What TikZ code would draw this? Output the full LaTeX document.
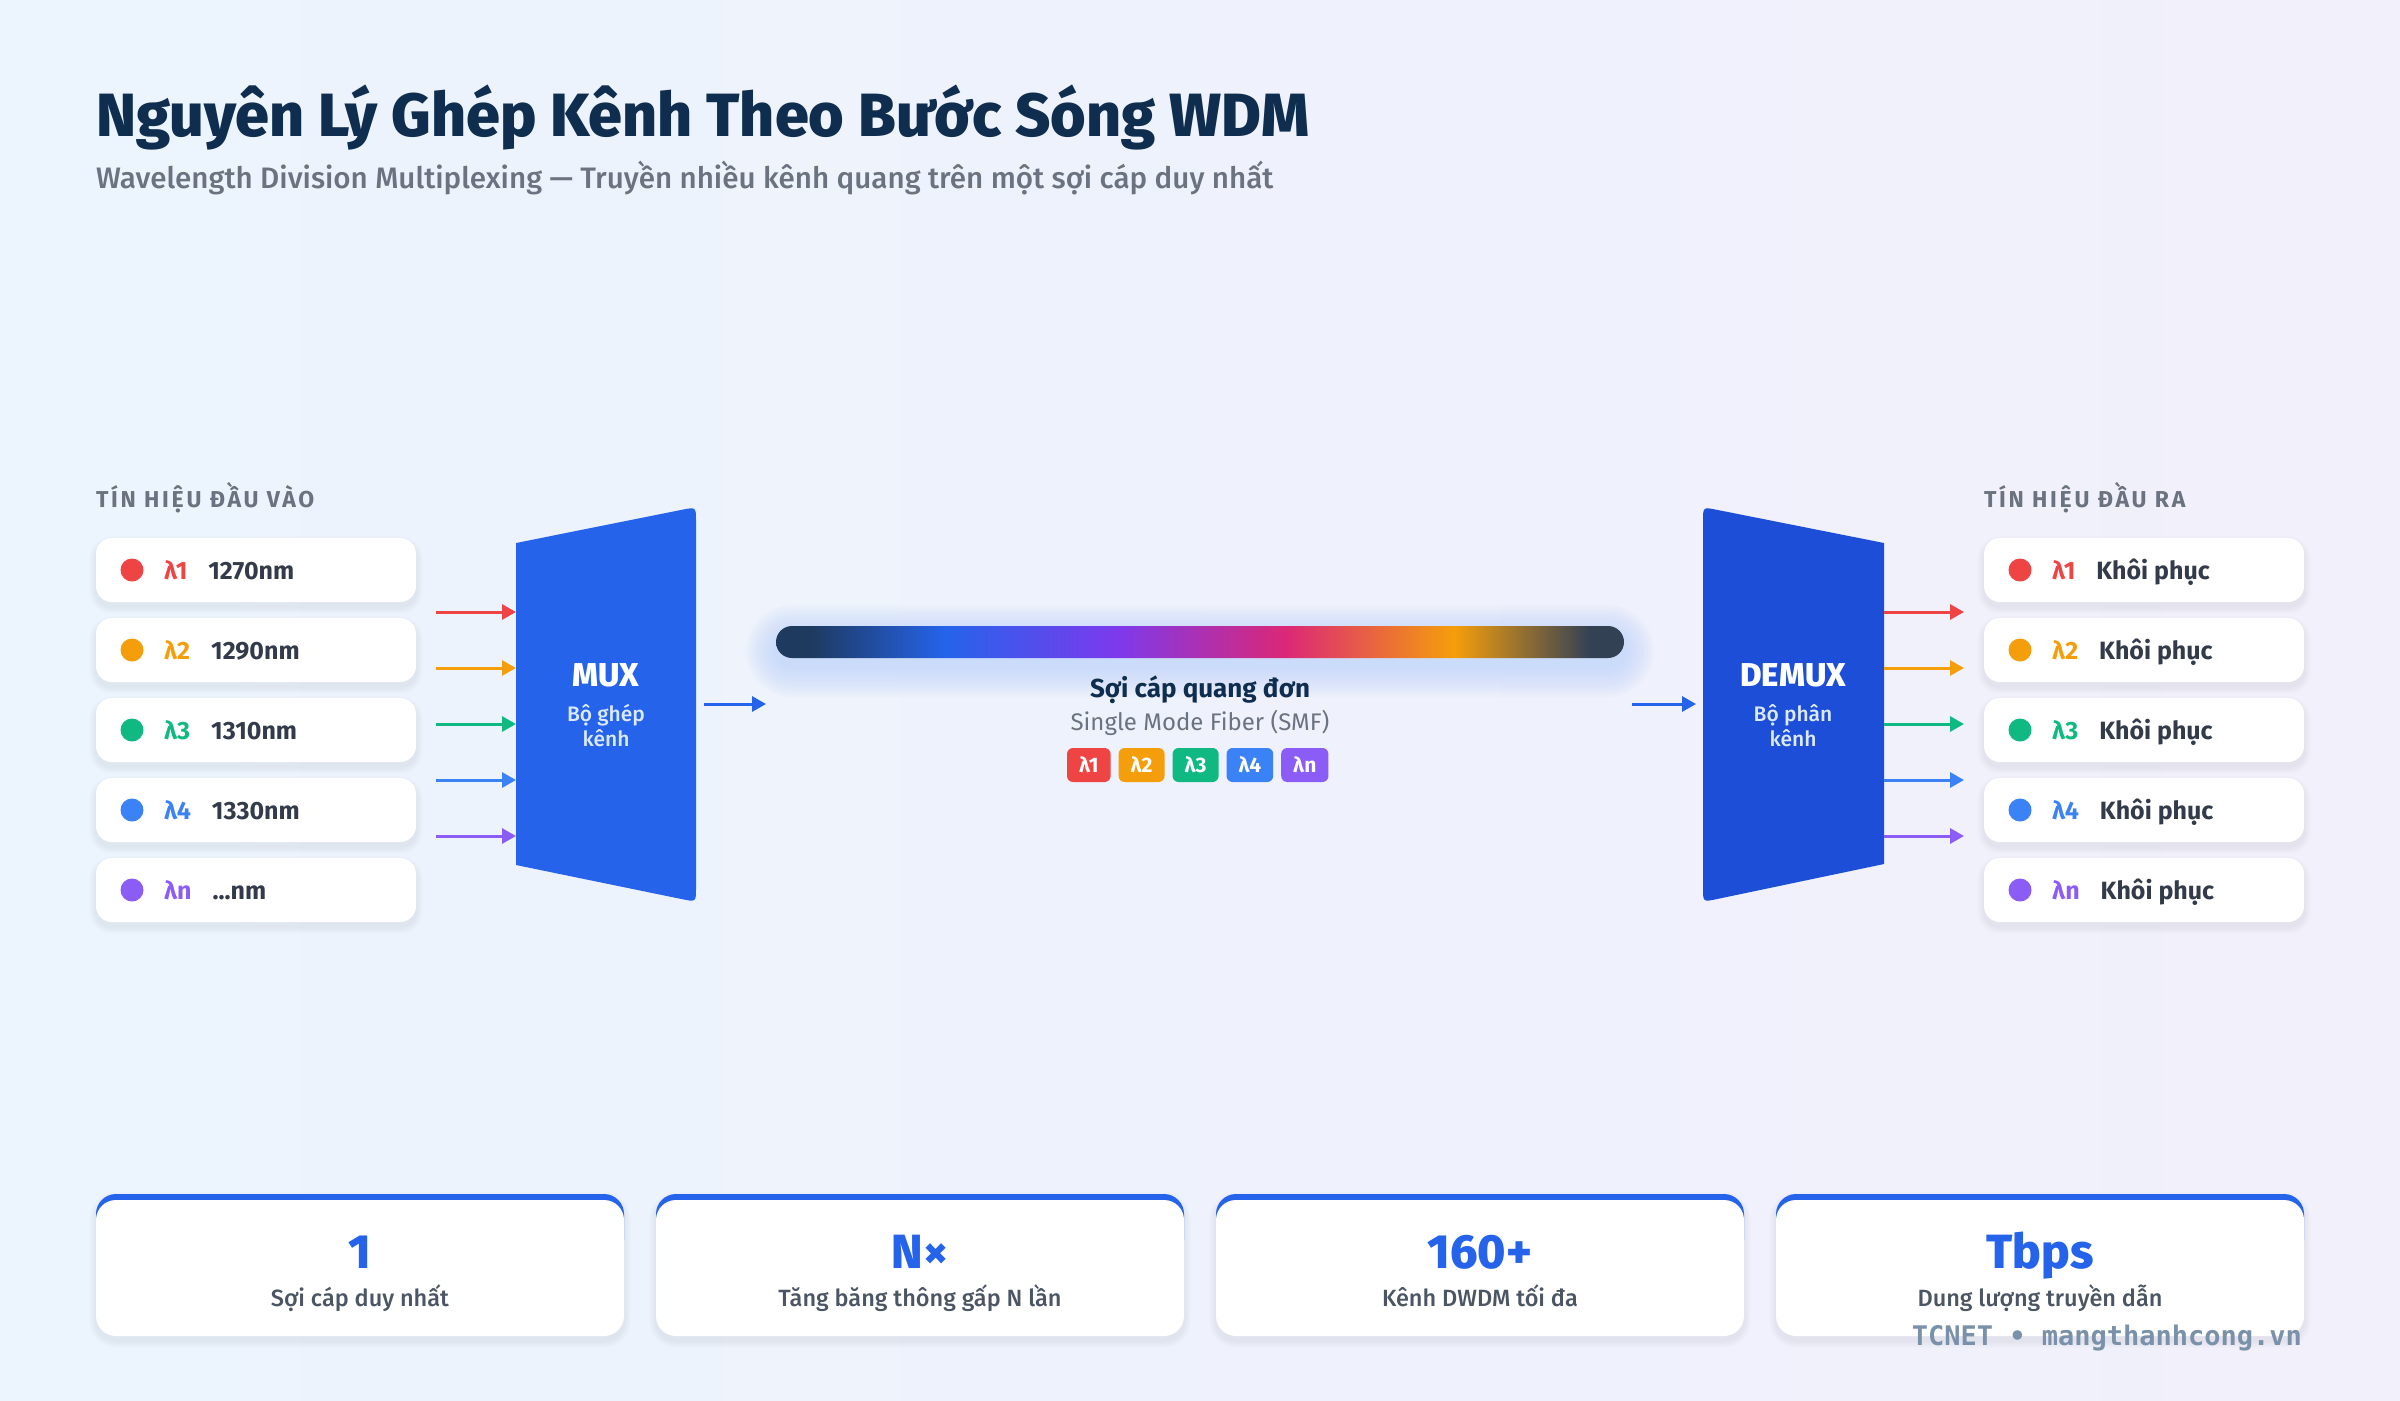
\documentclass[tikz,border=0pt]{standalone}
\usepackage{fontspec}
\setmainfont{Fira Sans}
\newfontfamily\heavyfont{Fira Sans ExtraBold}
\newfontfamily\medfont{Fira Sans Medium}
\newfontfamily\seclabfont{Fira Sans}[LetterSpace=12]
\newfontfamily\wmfont{DejaVu Sans Mono}
\usetikzlibrary{arrows.meta}
\definecolor{bgA}{HTML}{ECF4FD}
\definecolor{bgB}{HTML}{F1F0FB}
\definecolor{titlec}{HTML}{0F2E4F}
\definecolor{subc}{HTML}{6B7280}
\definecolor{darkt}{HTML}{333B4A}
\definecolor{cR}{HTML}{EF4444}
\definecolor{cO}{HTML}{F59E0B}
\definecolor{cG}{HTML}{10B981}
\definecolor{cB}{HTML}{3B82F6}
\definecolor{cP}{HTML}{8B5CF6}
\definecolor{muxc}{HTML}{2563EB}
\definecolor{demuxc}{HTML}{1D4ED8}
\definecolor{lightt}{HTML}{DBEAFE}
\definecolor{shcol}{HTML}{475569}
\definecolor{glowc}{HTML}{60A5FA}
\definecolor{labc}{HTML}{4B5563}
\definecolor{wmc}{HTML}{7A91AA}
\definecolor{fA}{HTML}{1E3A5F}
\definecolor{fB}{HTML}{2563EB}
\definecolor{fC}{HTML}{7C3AED}
\definecolor{fD}{HTML}{DB2777}
\definecolor{fE}{HTML}{F59E0B}
\definecolor{fF}{HTML}{334155}
\pgfdeclarehorizontalshading{fibershade}{100bp}{color(0bp)=(fA); color(25bp)=(fA); color(27bp)=(fA); color(35bp)=(fB); color(45bp)=(fC); color(55bp)=(fD); color(65bp)=(fE); color(73bp)=(fF); color(75bp)=(fF); color(100bp)=(fF)}
\newcommand\fsz[2]{\fontsize{#1}{#2}\selectfont}
\newcommand\dotsnm{...nm}
\newcommand\sshadow[5]{\foreach \k in {1,...,7}{\fill[shcol, opacity=0.008, rounded corners={#5+\k}] ({#1-\k},{#2-\k+5}) rectangle ({#3+\k},{#4+\k+5});}}
\begin{document}
\begin{tikzpicture}[x=1pt,y=-1pt,
  every node/.style={inner sep=0pt, outer sep=0pt},
  inbox/.style={fill=white, rounded corners=16pt, minimum width=320pt, minimum height=64pt},
  wdot/.style={circle, fill=#1, minimum size=23pt},
  lam/.style={text=#1, font=\fsz{25}{30}\bfseries, anchor=base west},
  valt/.style={text=darkt, font=\fsz{25}{30}\bfseries, anchor=base west},
  arr/.style={draw=#1, line width=3pt, -{Triangle[length=14pt,width=15pt]}},
  seclab/.style={text=subc, font=\seclabfont\fsz{23}{26}\bfseries, anchor=base west},
  boxtitle/.style={text=white, font=\heavyfont\fsz{33}{38}, anchor=base},
  boxsub/.style={text=lightt, font=\medfont\fsz{21}{24}, anchor=base},
  badge/.style={fill=#1, rounded corners=6pt, minimum height=34pt, inner xsep=12pt, text=white, font=\fsz{21}{24}\bfseries, anchor=west},
  cardnum/.style={text=muxc, font=\heavyfont\fsz{48}{54}, anchor=base},
  cardlab/.style={text=labc, font=\medfont\fsz{23.5}{27}, anchor=base}
]
\useasboundingbox (0,0) rectangle (2400,1400);
\shade[left color=bgA, right color=bgB] (0,0) rectangle (2400,1400);

% title
\node[anchor=base west, text=titlec, font=\heavyfont\fsz{61}{70}] (title) at (96,136) {Nguyên Lý Ghép Kênh Theo Bước Sóng WDM};
\node[anchor=base west, text=subc, font=\medfont\fsz{29.6}{33}] (subtitle) at (96,188) {Wavelength Division Multiplexing — Truyền nhiều kênh quang trên một sợi cáp duy nhất};

% section labels
\node[seclab] (inlab) at (96,507) {TÍN HIỆU ĐẦU VÀO};
\node[seclab] (outlab) at (1984,507) {TÍN HIỆU ĐẦU RA};

% input & output boxes
\foreach \i/\c/\l/\t/\y in {1/cR/1/1270nm/570, 2/cO/2/1290nm/650, 3/cG/3/1310nm/730, 4/cB/4/1330nm/810, 5/cP/n/\dotsnm/890}{
  \sshadow{96}{\y-32}{416}{\y+32}{16}
  \node[inbox] (in\i) at (256,\y) {};
  \node[wdot=\c] (idot\i) at (132,\y) {};
  \node[lam=\c] (ilam\i) at (164,\y+9) {λ\l};
  \node[valt] (ival\i) at ([xshift=21pt]ilam\i.base east) {\t};
  \sshadow{1984}{\y-32}{2304}{\y+32}{16}
  \node[inbox] (out\i) at (2144,\y) {};
  \node[wdot=\c] (odot\i) at (2020,\y) {};
  \node[lam=\c] (olam\i) at (2052,\y+9) {λ\l};
  \node[valt] (oval\i) at ([xshift=21pt]olam\i.base east) {Khôi phục};
}

% MUX
\fill[muxc] (516,543) -- (682.3,509.7) .. controls (696,507) .. (696,521) -- (696,888) .. controls (696,902) .. (682.3,899.2) -- (516,865) -- cycle;
\node[boxtitle] (muxt) at (606,686) {MUX};
\node[boxsub] (muxs1) at (606,721) {Bộ ghép};
\node[boxsub] (muxs2) at (606,746) {kênh};

% DEMUX
\fill[demuxc] (1884,543) -- (1884,864) -- (1716.7,899.1) .. controls (1703,902) .. (1703,888) -- (1703,521) .. controls (1703,507) .. (1716.7,509.8) -- cycle;
\node[boxtitle] (demuxt) at (1793,686) {DEMUX};
\node[boxsub] (demuxs1) at (1793,721) {Bộ phân};
\node[boxsub] (demuxs2) at (1793,746) {kênh};

% arrows in / out
\foreach \i/\c/\y in {1/cR/612, 2/cO/668, 3/cG/724, 4/cB/780, 5/cP/836}{
  \coordinate (ia\i) at (436,\y);
  \coordinate (ib\i) at (516,\y);
  \draw[arr=\c] (ia\i) -- (ib\i);
  \coordinate (oa\i) at (1884,\y);
  \coordinate (ob\i) at (1964,\y);
  \draw[arr=\c] (oa\i) -- (ob\i);
}

% fiber glow + fiber
\foreach \k in {2,4,...,30}{
  \fill[glowc, opacity=0.017, rounded corners={16+\k}] ({776-\k},{626-\k+9}) rectangle ({1624+\k},{658+\k+9});
}
\shade[shading=fibershade, rounded corners=16pt] (776,626) rectangle (1624,658);

\coordinate (muxout) at (704,704);
\coordinate (fibin) at (766,704);
\draw[arr=muxc] (muxout) -- (fibin);
\coordinate (fibout) at (1632,704);
\coordinate (demuxin) at (1696,704);
\draw[arr=muxc] (fibout) -- (demuxin);

\node[anchor=base, text=titlec, font=\fsz{26}{30}\bfseries] (fibt) at (1200,697) {Sợi cáp quang đơn};
\node[anchor=base, text=subc, font=\fsz{24}{28}] (fibs) at (1200,730) {Single Mode Fiber (SMF)};

\node[badge=cR] (b1) at (1067,765) {λ1};
\node[badge=cO] (b2) at ([xshift=8pt]b1.east) {λ2};
\node[badge=cG] (b3) at ([xshift=8pt]b2.east) {λ3};
\node[badge=cB] (b4) at ([xshift=8pt]b3.east) {λ4};
\node[badge=cP] (b5) at ([xshift=8pt]b4.east) {λn};

% cards
\foreach \x/\num/\lab [count=\n] in {96/1/Sợi cáp duy nhất, 656/N×/Tăng băng thông gấp N lần, 1216/160+/Kênh DWDM tối đa, 1776/Tbps/Dung lượng truyền dẫn}{
  \sshadow{\x}{1194}{\x+528}{1336}{20}
  \fill[muxc, rounded corners=20pt] (\x,1194) rectangle ({\x+528},1260);
  \fill[white, rounded corners=20pt] (\x,1200) rectangle ({\x+528},1336);
  \node[cardnum] (num\n) at ({\x+264},1268) {\num};
  \node[cardlab] (lab\n) at ({\x+264},1306) {\lab};
}

\node[anchor=base east, text=wmc, font=\wmfont\fsz{27}{30}\bfseries] (wm) at (2302,1345) {TCNET • mangthanhcong.vn};
\end{tikzpicture}
\end{document}
